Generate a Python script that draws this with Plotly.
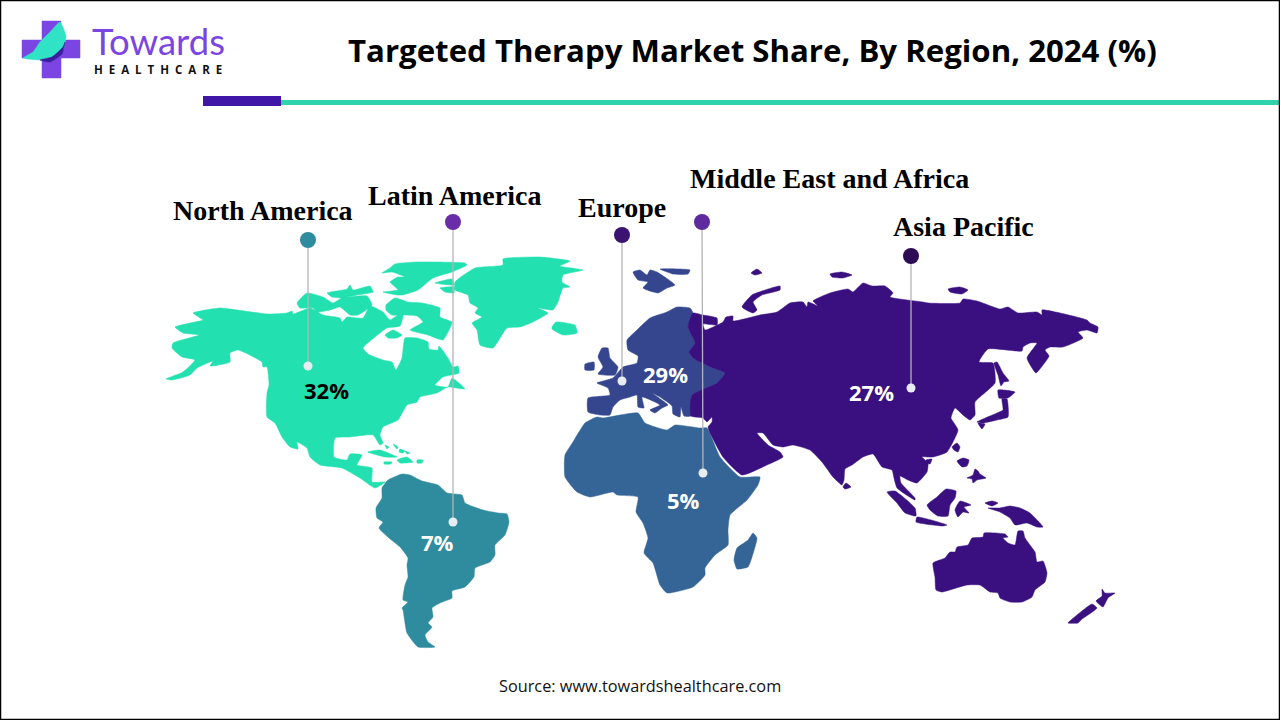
import plotly.graph_objects as go

# ---- chart data ----
regions = ["North America", "Latin America", "Europe", "Middle East and Africa", "Asia Pacific"]
shares = [32, 7, 29, 5, 27]
title_text = "Targeted Therapy Market Share, By Region, 2024 (%)"
source_text = "Source: www.towardshealthcare.com"

# ---- map outlines (map units) ----
na_main = [(166,379),(183,372),(195,360),(182,357),(172,348),(173,343),(199,335),(183,333),(175,327),(195,322),(203,320),(193,313),(220,308),(267,314),(287,313),(292,311),(293,314),(310,308),(323,315),(340,318),(342,322),(347,317),(363,318),(370,306),(383,312),(390,320),(398,315),(403,315),(400,326),(387,328),(380,333),(363,348),(368,354),(383,360),(392,362),(396,370),(402,358),(405,338),(417,338),(428,342),(429,349),(438,350),(439,346),(448,358),(453,367),(458,366),(459,373),(443,377),(435,385),(448,387),(452,378),(465,389),(448,387),(437,393),(420,397),(417,402),(407,405),(398,420),(383,427),(380,435),(383,443),(380,445),(373,435),(350,437),(335,438),(334,457),(347,460),(350,454),(362,455),(357,465),(372,468),(372,482),(385,482),(375,488),(360,478),(342,468),(320,465),(310,457),(307,448),(297,442),(298,449),(290,447),(282,437),(275,423),(267,417),(267,393),(269,385),(267,367),(263,367),(262,362),(238,350),(230,353),(230,362),(210,366),(213,361),(197,368),(190,375),(172,380)]
na_banks = [(297,303),(307,293),(323,297),(333,303),(342,298),(367,296),(372,305),(358,315),(350,315),(340,307),(330,310),(317,312),(313,308),(300,308)]
na_parry = [(327,293),(347,289),(350,285),(353,290),(370,286),(373,292),(357,295),(343,298),(332,297)]
na_ellesmere = [(382,273),(390,268),(395,264),(417,262),(465,263),(467,265),(452,272),(433,278),(418,290),(403,295),(397,295),(383,292),(398,290),(393,285),(390,282),(398,277),(405,277),(392,272)]
na_baffin = [(386,305),(395,298),(408,302),(422,303),(440,308),(440,317),(452,322),(450,328),(443,340),(428,335),(410,330),(423,322),(417,316),(403,315),(392,315),(386,310)]
na_southampton = [(385,335),(393,330),(402,335),(397,338),(388,338)]
na_greenland = [(455,282),(475,268),(503,265),(503,259),(540,257),(570,261),(560,266),(583,270),(563,275),(562,282),(570,287),(563,288),(558,302),(553,310),(538,308),(548,313),(533,322),(520,327),(507,328),(493,348),(480,345),(477,330),(472,323),(482,317),(475,313),(478,308),(470,303),(468,295),(455,290)]
na_green_a = [(435,283),(452,279),(454,285)]
na_green_b = [(440,288),(454,287),(454,293),(445,292)]
na_iceland = [(552,327),(556,322),(575,325),(577,333),(563,335),(552,329)]
na_cuba = [(368,452),(380,450),(397,457),(385,457)]
na_hispaniola = [(397,460),(407,457),(413,462),(400,463)]
na_jamaica = [(384,462),(392,462),(391,464),(384,464)]
na_puerto = [(417,460),(423,460),(422,463),(417,463)]
na_bahama_a = [(385,445),(389,447),(387,449)]
na_bahama_b = [(393,444),(398,447),(397,449)]
na_bahama_c = [(400,449),(405,451),(403,453),(399,452)]
na_bahama_d = [(405,451),(410,453),(407,454)]

la_main = [(382,488),(388,480),(402,474),(410,475),(422,481),(438,485),(447,493),(462,495),(465,503),(483,510),(498,513),(507,514),(509,522),(505,535),(495,545),(495,555),(490,562),(475,568),(474,577),(465,587),(452,591),(452,598),(440,603),(432,608),(433,617),(428,623),(432,627),(425,635),(428,642),(435,647),(418,647),(407,633),(403,610),(402,608),(408,602),(403,600),(405,585),(408,577),(407,565),(408,558),(400,547),(389,538),(379,528),(383,522),(377,518),(376,508),(382,498)]

af_main = [(565,455),(573,442),(585,423),(597,417),(603,418),(638,413),(645,423),(667,430),(675,425),(700,428),(707,428),(720,457),(740,477),(760,477),(758,485),(747,500),(730,515),(728,530),(728,545),(715,555),(705,568),(705,575),(693,587),(667,593),(660,585),(653,563),(644,553),(648,538),(643,523),(636,512),(638,497),(617,495),(613,492),(590,497),(577,492),(565,477)]
af_madagascar = [(737,548),(748,540),(753,533),(757,538),(752,557),(748,567),(737,569),(734,560)]

eu_main = [(677,307),(690,308),(693,313),(688,327),(695,343),(689,352),(693,358),(710,367),(725,373),(717,383),(692,395),(691,416),(684,416),(681,407),(680,417),(673,414),(672,406),(660,397),(652,393),(668,405),(662,408),(655,413),(650,410),(660,405),(642,397),(644,408),(638,407),(637,395),(630,397),(620,400),(613,407),(610,415),(600,415),(588,412),(588,398),(610,395),(608,388),(597,383),(613,378),(623,367),(637,363),(638,356),(628,350),(627,340),(637,330),(650,318),(667,312)]
eu_uk = [(602,348),(608,348),(610,358),(618,367),(615,375),(598,374),(603,367),(598,357)]
eu_ireland = [(585,364),(594,362),(594,370),(585,370)]
eu_svalbard = [(633,272),(640,270),(647,275),(650,270),(657,272),(675,285),(667,288),(658,293),(643,288),(648,282),(638,280)]
eu_nordaust = [(660,269),(690,270),(688,274),(673,274)]

as_main = [(693,313),(703,315),(717,318),(717,325),(703,324),(705,330),(723,322),(726,317),(733,316),(733,321),(760,315),(777,312),(790,303),(803,302),(807,307),(808,302),(818,306),(813,301),(830,293),(848,289),(853,292),(863,283),(872,286),(885,286),(893,293),(890,297),(923,302),(928,303),(960,303),(963,299),(977,301),(1000,309),(1008,307),(1018,313),(1037,312),(1042,315),(1042,310),(1060,313),(1087,320),(1090,323),(1098,327),(1097,333),(1087,330),(1078,332),(1083,338),(1063,347),(1050,347),(1045,350),(1049,356),(1043,365),(1036,373),(1027,358),(1037,343),(1030,343),(1023,347),(1022,351),(988,349),(979,362),(993,363),(995,383),(975,402),(975,415),(970,420),(963,415),(955,408),(951,418),(958,430),(947,452),(933,457),(922,457),(928,463),(927,472),(917,483),(908,480),(900,476),(901,483),(915,498),(915,500),(897,488),(894,478),(892,470),(882,467),(873,454),(863,457),(852,465),(845,469),(844,480),(842,485),(833,477),(822,462),(810,450),(793,445),(783,447),(773,445),(763,433),(757,433),(768,445),(780,452),(783,457),(767,465),(742,475),(723,457),(710,433),(708,427),(712,422),(712,417),(707,422),(703,418),(691,416),(692,395),(717,383),(725,373),(710,367),(693,358),(689,352),(695,343),(688,327)]
as_novaya = [(742,307),(752,295),(780,286),(780,290),(762,295),(753,302),(757,310),(753,313)]
as_franz = [(751,273),(757,269),(762,273),(755,275)]
as_severnaya = [(830,274),(842,272),(852,275),(843,278),(832,277)]
as_novosib = [(948,289),(960,287),(968,290),(962,294),(950,292)]
as_sakhalin = [(994,363),(997,362),(1003,373),(1009,381),(1004,382),(1001,386),(998,375)]
as_hokkaido = [(998,390),(1015,392),(1008,398),(999,398)]
as_honshu = [(1002,399),(1007,399),(1008,417),(997,420),(983,423),(977,422),(997,413),(1003,410)]
as_kyushu = [(978,423),(985,424),(982,429)]
as_taiwan = [(952,447),(957,443),(960,447),(958,452),(954,450)]
as_srilanka = [(846,483),(851,487),(845,489),(843,487)]
as_hainan = [(926,460),(932,459),(930,464),(927,463)]
as_luzon = [(957,461),(963,458),(969,460),(967,466),(962,467)]
as_mindanao = [(967,478),(973,475),(975,469),(978,471),(980,474),(986,478),(977,480),(973,483),(972,479)]
as_sumatra = [(887,492),(895,491),(915,508),(916,516),(905,513),(897,503)]
as_java = [(917,517),(947,525),(943,526),(916,522)]
as_borneo = [(927,505),(937,497),(946,489),(956,491),(955,498),(950,505),(948,516),(938,516),(930,510)]
as_sulawesi = [(955,510),(960,501),(971,505),(964,507),(969,513),(963,512),(958,517)]
as_halmahera = [(985,503),(992,501),(998,503),(992,506)]
as_png = [(988,508),(1000,508),(1010,506),(1020,508),(1030,513),(1043,527),(1037,527),(1027,523),(1015,525),(1010,518),(1000,512)]
as_australia = [(933,563),(945,558),(950,552),(955,552),(957,547),(968,545),(972,538),(983,537),(984,533),(1005,534),(1008,537),(1003,538),(1008,543),(1015,545),(1018,531),(1023,531),(1025,538),(1035,552),(1037,562),(1043,561),(1047,573),(1045,582),(1035,590),(1032,597),(1022,602),(1010,602),(1000,598),(998,593),(990,592),(980,585),(967,585),(953,589),(942,592),(936,590),(935,577)]
as_nz_north = [(1102,589),(1105,593),(1115,593),(1108,598),(1103,607),(1096,601),(1102,596)]
as_nz_south = [(1092,604),(1097,608),(1088,615),(1082,619),(1078,623),(1068,623),(1077,615)]

logo_cross = [(42,21),(61,21),(61,40),(80,40),(80,58),(61,58),(61,78),(42,78),(42,58),(22,58),(22,40),(42,40)]
logo_leaf = [(23,58),(33,52),(40,42),(50,32),(60,22),(66,36),(63,50),(52,57),(40,60)]
logo_swoosh = [(40,60),(52,57),(63,47),(65,42),(62,54),(50,62)]

# ---- styles ----
REGION_COLORS = ["#22E0AF", "#2F8C9E", "#35468F", "#356596", "#3A1080"]
DOT_COLORS = ["#2F8C9E", "#6A2DA8", "#3A1470", "#5E2A9E", "#2E0B55"]
PCT_COLORS = ["#000000", "#FFFFFF", "#FFFFFF", "#FFFFFF", "#FFFFFF"]
SERIF = "Liberation Serif"
SANS = "Open Sans"

region_shapes = {
    "North America": [na_main, na_banks, na_parry, na_ellesmere, na_baffin, na_southampton, na_greenland,
                      na_green_a, na_green_b, na_iceland, na_cuba, na_hispaniola, na_jamaica, na_puerto,
                      na_bahama_a, na_bahama_b, na_bahama_c, na_bahama_d],
    "Latin America": [la_main],
    "Europe": [eu_main, eu_uk, eu_ireland, eu_svalbard, eu_nordaust],
    "Middle East and Africa": [af_main, af_madagascar],
    "Asia Pacific": [as_main, as_novaya, as_franz, as_severnaya, as_novosib, as_sakhalin, as_hokkaido, as_honshu,
                     as_kyushu, as_taiwan, as_srilanka, as_hainan, as_luzon, as_mindanao, as_sumatra, as_java,
                     as_borneo, as_sulawesi, as_halmahera, as_png, as_australia, as_nz_north, as_nz_south],
}

pin_top = {"North America": (308, 240), "Latin America": (453, 222), "Europe": (622, 235),
           "Middle East and Africa": (702, 222), "Asia Pacific": (911, 256)}
pin_end = {"North America": (308, 366), "Latin America": (453, 522), "Europe": (622, 381),
           "Middle East and Africa": (703, 473), "Asia Pacific": (911, 388)}
name_pos = {"North America": (263, 210.5), "Latin America": (454, 195.5), "Europe": (622, 207.5),
            "Middle East and Africa": (829, 178.5), "Asia Pacific": (963, 226.5)}
pct_pos = {"North America": (326, 389.5), "Latin America": (437, 541.5), "Europe": (665, 373.5),
           "Middle East and Africa": (683, 499.5), "Asia Pacific": (871, 391.5)}


def poly_xy(polys):
    xs, ys = [], []
    for p in polys:
        for x, y in p + [p[0]]:
            xs.append(x)
            ys.append(y)
        xs.append(None)
        ys.append(None)
    return xs, ys


def fill_trace(polys, color, smooth=True):
    xs, ys = poly_xy(polys)
    line = dict(color=color, width=0.5)
    if smooth:
        line.update(shape="spline", smoothing=0.45)
    return go.Scatter(x=xs, y=ys, mode="lines", fill="toself", fillcolor=color,
                      line=line, hoverinfo="skip", showlegend=False)


fig = go.Figure()

for name, color in zip(regions, REGION_COLORS):
    fig.add_trace(fill_trace(region_shapes[name], color))

# logo marks
fig.add_trace(fill_trace([logo_cross], "#7B45E3", smooth=False))
fig.add_trace(fill_trace([logo_leaf], "#2FE3C4"))
fig.add_trace(fill_trace([logo_swoosh], "#3A1E9E"))

# leader lines and pins
for name, dot in zip(regions, DOT_COLORS):
    (x0, y0), (x1, y1) = pin_top[name], pin_end[name]
    fig.add_trace(go.Scatter(x=[x0, x1], y=[y0, y1], mode="lines",
                             line=dict(color="#B4B4B4", width=1.3), hoverinfo="skip", showlegend=False))
    fig.add_trace(go.Scatter(x=[x1], y=[y1], mode="markers",
                             marker=dict(size=9, color="#E9ECF3"), hoverinfo="skip", showlegend=False))
    fig.add_trace(go.Scatter(x=[x0], y=[y0], mode="markers",
                             marker=dict(size=16, color=dot), hoverinfo="skip", showlegend=False))

annotations = []


def note(x, y, text, size, family, color="#000000", bold=True, **kw):
    annotations.append(dict(x=x, y=y, xref="x", yref="y", showarrow=False, xanchor=kw.pop("xanchor", "center"),
                            yanchor="middle", text=f"<b>{text}</b>" if bold else text,
                            font=dict(size=size, family=family, color=color), **kw))


for name, val, col in zip(regions, shares, PCT_COLORS):
    note(*name_pos[name], name, 28, SERIF)
    note(*pct_pos[name], f"{val}%", 22, SANS, col)

note(752, 50, title_text, 31.2, SANS)
note(640, 686, source_text, 16.3, SANS, "#111111", bold=False)
note(90, 41, "Towards", 36.5, "Lato", "#7B45E3", bold=False, xanchor="left")
note(92, 69.5, "H&nbsp;&nbsp;E&nbsp;&nbsp;A&nbsp;&nbsp;L&nbsp;&nbsp;T&nbsp;&nbsp;H&nbsp;&nbsp;C&nbsp;&nbsp;A&nbsp;&nbsp;R&nbsp;&nbsp;E", 11.5, SANS, "#111111", xanchor="left")

shapes = [
    dict(type="rect", xref="x", yref="y", x0=281, x1=1280, y0=100, y1=105, fillcolor="#2ED3AE", line_width=0),
    dict(type="rect", xref="x", yref="y", x0=203, x1=281, y0=96, y1=106, fillcolor="#3F16A8", line_width=0),
    dict(type="rect", xref="x", yref="y", x0=0.5, x1=1279.5, y0=0.5, y1=719.5, line=dict(color="#000000", width=1.5)),
]

fig.update_layout(
    width=1280, height=720, margin=dict(l=0, r=0, t=0, b=0), showlegend=False,
    paper_bgcolor="#FFFFFF", plot_bgcolor="#FFFFFF",
    xaxis=dict(range=[0, 1280], visible=False, fixedrange=True),
    yaxis=dict(range=[720, 0], visible=False, fixedrange=True),
    annotations=annotations, shapes=shapes,
)

fig.write_html("out.html", config={"displayModeBar": False},
               post_script="document.body.style.margin='0';document.body.style.overflow='hidden';")
